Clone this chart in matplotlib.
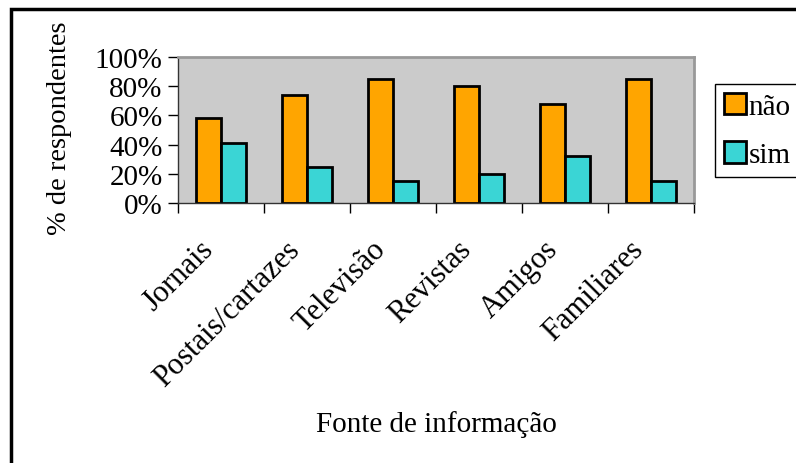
import matplotlib.pyplot as plt
import numpy as np
from matplotlib.patches import Rectangle
from matplotlib.transforms import ScaledTranslation

plt.rcParams['font.family'] = ['Liberation Serif', 'DejaVu Serif']

categorias = ["Jornais", "Postais/cartazes", "Televisão", "Revistas", "Amigos", "Familiares"]
nao = [58, 74, 85, 80, 68, 85]
sim = [41, 25, 15, 20, 32, 15]
yticks = [0, 20, 40, 60, 80, 100]

cor_nao = "#FFA500"
cor_sim = "#3AD5D5"

fig = plt.figure(figsize=(7.96, 4.64), dpi=100)
ax = fig.add_axes([178 / 796, 1 - 204 / 464, (694 - 178) / 796, (204 - 58) / 464])
ax.set_facecolor("#CBCBCB")

x = np.arange(len(categorias))
w = 0.29
ax.bar(x - w / 2, nao, w, color=cor_nao, edgecolor="black", linewidth=2, label="não")
ax.bar(x + w / 2, sim, w, color=cor_sim, edgecolor="black", linewidth=2, label="sim")

ax.set_xlim(-0.5, len(categorias) - 0.5)
ax.set_ylim(0, 100)
ax.set_yticks(yticks)
ax.set_yticklabels([f"{v}%" for v in yticks], fontsize=21)
ax.tick_params(axis="y", length=7, width=1, pad=4)

# category labels on major ticks (hidden), tick marks between categories
ax.set_xticks(x)
ax.set_xticklabels(categorias, fontsize=22, rotation=45, ha="right", va="top",
                   rotation_mode="anchor")
ax.tick_params(axis="x", which="major", length=0, pad=14)
shift = ScaledTranslation(-0.22, -0.12, fig.dpi_scale_trans)
for lab in ax.get_xticklabels():
    lab.set_transform(lab.get_transform() + shift)
ax.set_xticks(np.arange(-0.5, len(categorias)), minor=True)
ax.tick_params(axis="x", which="minor", length=7, width=1)

for s in ["top", "right"]:
    ax.spines[s].set_color("#999999")
    ax.spines[s].set_linewidth(2)
for s in ["left", "bottom"]:
    ax.spines[s].set_color("#333333")
    ax.spines[s].set_linewidth(1)

ax.set_ylabel("% de respondentes", fontsize=20.5)
ax.yaxis.set_label_coords(-0.205, 0.52)
fig.text(436 / 796, 1 - 425 / 464, "Fonte de informação", fontsize=21,
         ha="center", va="center")

fig.legend(loc="upper left", bbox_to_anchor=(715 / 796, 1 - 85 / 464),
           fontsize=21, frameon=True, fancybox=False, edgecolor="black",
           framealpha=1, handlelength=0.75, handleheight=0.75, handletextpad=0.1,
           labelspacing=0.75, borderpad=0.3, borderaxespad=0)
fig.legends[0].get_frame().set_linewidth(1)

# outer chart frame
fig.patches.append(Rectangle((11 / 796, -0.05), 1.0, 1 - 10 / 464 + 0.05,
                             transform=fig.transFigure, fill=False,
                             edgecolor="black", linewidth=2.5, zorder=10))

fig.savefig("out.png", dpi=100)
